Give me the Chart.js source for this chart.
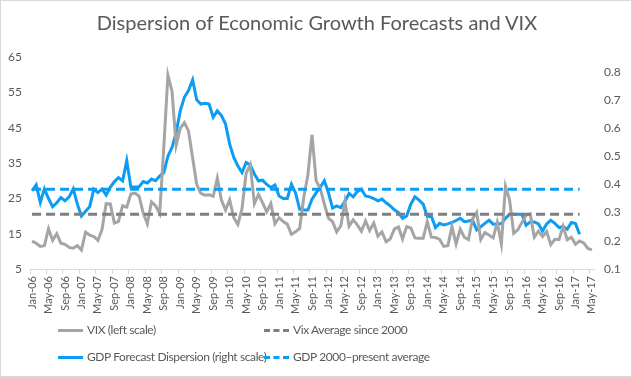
<!DOCTYPE html>
<html lang="en">
<head>
  <meta charset="UTF-8">
  <title>Dispersion of Economic Growth Forecasts and VIX</title>
  <script src="https://cdn.jsdelivr.net/npm/chart.js"></script>
  <style>
    body { margin: 0; background: #fff; font-family: Lato, "Open Sans", sans-serif; }
    .wrap {
      position: relative;
      width: 630px;
      height: 375px;
      border: 1px solid #d9d9d9;
      overflow: hidden;
    }
    #chart { position: absolute; left: 0; top: 0; }
    .title {
      position: absolute;
      top: 9px;
      left: 0;
      width: 632px;
      text-align: center;
      font-size: 20px;
      color: #595959;
    }
    .legend-item {
      position: absolute;
      font-size: 12px;
      letter-spacing: -0.4px;
      color: #595959;
      line-height: 18px;
      white-space: nowrap;
    }
    .legend-item .swatch {
      position: absolute;
      left: -29px;
      top: 8px;
      width: 25px;
      height: 0;
      border-top: 3px solid;
    }
  </style>
</head>
<body>
  <div class="wrap">
    <canvas id="chart" width="630" height="375"></canvas>
    <div class="title">Dispersion of Economic Growth Forecasts and VIX</div>
    <div class="legend-item" style="left:86px; top:320px;"><span class="swatch" style="border-color:#a5a5a5"></span>VIX (left scale)</div>
    <div class="legend-item" style="left:292px; top:320px;"><span class="swatch" style="border-top-style:dashed; border-color:#7f7f7f"></span>Vix Average since 2000</div>
    <div class="legend-item" style="left:86px; top:347px;"><span class="swatch" style="border-color:#0b9cf5"></span>GDP Forecast Dispersion (right scale)</div>
    <div class="legend-item" style="left:292px; top:347px;"><span class="swatch" style="border-top-style:dashed; border-color:#0b9cf5"></span>GDP 2000&ndash;present average</div>
  </div>

  <script>
    // months Jan-06 .. May-17
    const monthNames = ['Jan','Feb','Mar','Apr','May','Jun','Jul','Aug','Sep','Oct','Nov','Dec'];
    const months = [];
    for (let y = 6; y <= 17; y++) {
      for (let m = 0; m < 12; m++) {
        if (y === 17 && m > 4) break;
        months.push(monthNames[m] + '-' + String(y).padStart(2, '0'));
      }
    }

    // VIX, month end (left scale)
    const vix = [
      12.9, 12.3, 11.4, 11.6, 16.4, 13.1, 15.0, 12.3, 12.0, 11.1, 10.9, 11.6,
      10.4, 15.4, 14.6, 14.2, 13.1, 16.2, 23.5, 23.4, 18.0, 18.5, 22.9, 22.5,
      26.2, 26.5, 25.6, 20.8, 17.8, 24.0, 22.9, 20.7, 39.4, 59.9, 55.3, 40.0,
      44.8, 46.4, 44.1, 36.5, 28.9, 26.4, 25.9, 26.0, 25.6, 30.7, 24.5, 21.7,
      24.6, 19.5, 17.6, 22.1, 32.1, 34.5, 23.5, 26.1, 23.7, 21.2, 23.5, 17.8,
      19.5, 18.4, 17.7, 14.8, 15.5, 16.5, 25.3, 31.6, 43.0, 30.0, 27.8, 23.4,
      19.4, 18.4, 15.5, 17.2, 24.1, 17.1, 18.9, 17.5, 15.7, 18.6, 15.9, 18.0,
      14.3, 15.5, 12.7, 13.5, 16.3, 16.9, 13.5, 17.0, 16.6, 13.8, 13.7, 13.7,
      18.4, 14.0, 13.9, 13.4, 11.4, 11.6, 17.0, 12.1, 16.3, 14.0, 13.3, 19.2,
      21.0, 13.3, 15.3, 14.6, 13.8, 18.2, 12.1, 28.4, 24.5, 15.1, 16.1, 18.2,
      20.2, 20.6, 14.0, 15.7, 14.2, 15.6, 11.9, 13.4, 13.3, 17.1, 13.3, 14.0,
      12.0, 12.9, 12.4, 10.8, 10.4
    ];

    // GDP forecast dispersion (right scale), Jan-06 .. Feb-17
    const gdpDispersion = [
      0.377, 0.398, 0.336, 0.384, 0.350, 0.321, 0.335, 0.353, 0.342, 0.356, 0.384, 0.330,
      0.288, 0.305, 0.321, 0.383, 0.371, 0.384, 0.362, 0.390, 0.410, 0.424, 0.413, 0.484,
      0.391, 0.391, 0.392, 0.410, 0.405, 0.419, 0.413, 0.430, 0.442, 0.500, 0.531, 0.584,
      0.661, 0.709, 0.733, 0.771, 0.700, 0.685, 0.688, 0.685, 0.638, 0.661, 0.644, 0.614,
      0.543, 0.496, 0.465, 0.442, 0.478, 0.469, 0.437, 0.413, 0.415, 0.400, 0.389, 0.398,
      0.359, 0.350, 0.350, 0.401, 0.370, 0.312, 0.309, 0.309, 0.348, 0.370, 0.390, 0.413,
      0.370, 0.316, 0.324, 0.318, 0.340, 0.368, 0.356, 0.375, 0.383, 0.359, 0.356, 0.350,
      0.342, 0.348, 0.335, 0.324, 0.310, 0.300, 0.280, 0.288, 0.330, 0.356, 0.344, 0.330,
      0.286, 0.286, 0.247, 0.262, 0.256, 0.260, 0.265, 0.272, 0.280, 0.268, 0.270, 0.273,
      0.239, 0.250, 0.262, 0.273, 0.259, 0.260, 0.261, 0.280, 0.294, 0.294, 0.294, 0.294,
      0.255, 0.267, 0.267, 0.260, 0.235, 0.260, 0.273, 0.262, 0.247, 0.250, 0.241, 0.265,
      0.261, 0.223
    ];

    // long-run averages, drawn from Jan-06 to Feb-17
    const vixAverage = 20.5;
    const gdpAverage = 0.383;
    const avgSpan = ['Jan-06', 'Feb-17'];

    const leftTicks = [5, 15, 25, 35, 45, 55, 65];
    const rightTicks = [0.1, 0.2, 0.3, 0.4, 0.5, 0.6, 0.7, 0.8];

    const tickColor = '#595959';

    new Chart(document.getElementById('chart'), {
      type: 'line',
      data: {
        labels: months,
        datasets: [
          {
            label: 'GDP 2000–present average',
            data: avgSpan.map(m => ({ x: m, y: gdpAverage })),
            yAxisID: 'y1',
            borderColor: '#0b9cf5',
            borderWidth: 3,
            borderDash: [9, 5],
            pointRadius: 0
          },
          {
            label: 'Vix Average since 2000',
            data: avgSpan.map(m => ({ x: m, y: vixAverage })),
            yAxisID: 'y',
            borderColor: '#7f7f7f',
            borderWidth: 3,
            borderDash: [9, 5],
            pointRadius: 0
          },
          {
            label: 'VIX (left scale)',
            data: vix,
            yAxisID: 'y',
            borderColor: '#a5a5a5',
            borderWidth: 3,
            pointRadius: 0,
            tension: 0
          },
          {
            label: 'GDP Forecast Dispersion (right scale)',
            data: gdpDispersion,
            yAxisID: 'y1',
            borderColor: '#0b9cf5',
            borderWidth: 3,
            pointRadius: 0,
            tension: 0
          }
        ]
      },
      options: {
        responsive: false,
        animation: false,
        layout: { padding: { top: 56, left: 0, right: 0, bottom: 0 } },
        plugins: {
          legend: { display: false },
          tooltip: { enabled: false }
        },
        scales: {
          x: {
            type: 'category',
            offset: true,
            grid: {
              offset: true,
              drawOnChartArea: false,
              tickLength: 5,
              color: ctx => (ctx.index % 4 === 0 ? '#d9d9d9' : 'rgba(0,0,0,0)')
            },
            border: { color: '#d9d9d9', width: 1 },
            ticks: {
              autoSkip: false,
              maxRotation: 90,
              minRotation: 90,
              padding: 2,
              color: tickColor,
              font: { family: 'Lato', size: 11 },
              callback: function (val, i) { return i % 4 === 0 ? this.getLabelForValue(val) : ''; }
            },
            afterFit: s => { s.height = 375 - 268; }
          },
          y: {
            position: 'left',
            min: 5,
            max: 65,
            grid: { display: false, drawTicks: false },
            border: { display: false },
            afterBuildTicks: s => { s.ticks = leftTicks.map(v => ({ value: v })); },
            ticks: { color: tickColor, padding: 8, font: { family: 'Lato', size: 12 } },
            afterFit: s => { s.width = 29; }
          },
          y1: {
            position: 'right',
            min: 0.1,
            max: 0.852,
            grid: { display: false, drawTicks: false },
            border: { display: false },
            afterBuildTicks: s => { s.ticks = rightTicks.map(v => ({ value: v })); },
            ticks: { color: tickColor, padding: 10, font: { family: 'Lato', size: 12 } },
            afterFit: s => { s.width = 37; }
          }
        }
      }
    });
  </script>
</body>
</html>
